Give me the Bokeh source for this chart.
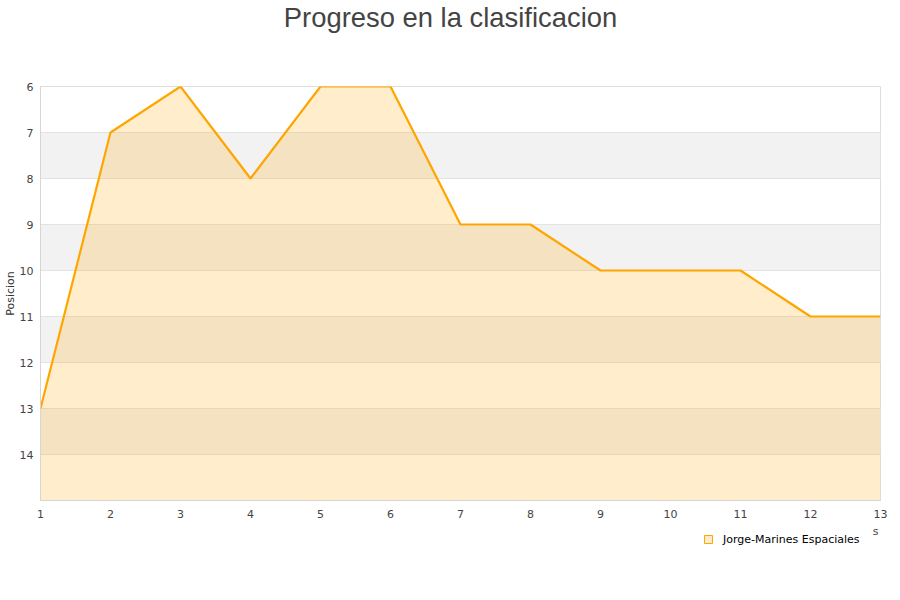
from bokeh.plotting import figure
from bokeh.layouts import column
from bokeh.models import FixedTicker, Range1d, Legend, LegendItem, Label
from bokeh.embed import file_html
from bokeh.resources import INLINE

jornadas = [1, 2, 3, 4, 5, 6, 7, 8, 9, 10, 11, 12, 13]
posicion = [13, 7, 6, 8, 6, 6, 9, 9, 10, 10, 10, 11, 11]
y_ticks = [6, 7, 8, 9, 10, 11, 12, 13, 14]
y_bottom = 15
titulo = "Progreso en la clasificacion"
serie = "Jorge-Marines Espaciales"
eje_x = "s"


def strip(h):
    f = figure(width=892, height=h, output_backend="svg", toolbar_location=None,
               x_range=Range1d(100, 101), y_range=Range1d(100, 101),
               min_border_left=40, min_border_right=12, min_border_top=0, min_border_bottom=0)
    f.axis.visible = False
    f.grid.visible = False
    f.outline_line_color = None
    f.background_fill_color = "white"
    f.border_fill_color = "white"
    return f


# title strip
p0 = strip(40)
p0.add_layout(Label(x=410, y=23, x_units="screen", y_units="screen", text=titulo,
                    text_align="center", text_baseline="middle",
                    text_font="Liberation Sans", text_font_size="27.4px", text_color="#444444"))

p = figure(width=892, height=484, output_backend="svg", toolbar_location=None,
           x_range=Range1d(1, 13), y_range=Range1d(y_bottom, 6),
           min_border_left=40, min_border_right=12, min_border_top=46, min_border_bottom=24)
p.background_fill_color = "white"
p.border_fill_color = "white"
p.outline_line_color = "#dddddd"

p.xgrid.visible = False
p.ygrid.grid_line_color = "#e3e3e3"
p.ygrid.band_fill_color = "#f2f2f2"
p.ygrid.band_fill_alpha = 1.0
p.ygrid.ticker = FixedTicker(ticks=y_ticks)

p.xaxis.ticker = FixedTicker(ticks=jornadas)
p.yaxis.ticker = FixedTicker(ticks=y_ticks)
for ax in (p.xaxis, p.yaxis):
    ax.major_tick_line_color = None
    ax.minor_tick_line_color = None
    ax.major_tick_out = 0
    ax.major_tick_in = 0
    ax.axis_line_color = "#d6d6d6"
    ax.major_label_text_font = "DejaVu Sans"
    ax.major_label_text_font_size = "11px"
    ax.major_label_text_color = "#444444"
    ax.axis_label_text_font = "DejaVu Sans"
    ax.axis_label_text_font_size = "11px"
    ax.axis_label_text_font_style = "normal"
    ax.axis_label_text_color = "#333333"
p.yaxis.major_label_standoff = 7
p.xaxis.major_label_standoff = 9
p.yaxis.axis_label = "Posicion"
p.yaxis.axis_label_standoff = 0

p.varea(x=jornadas, y1=posicion, y2=y_bottom, fill_color="orange", fill_alpha=0.2)
p.line(x=jornadas, y=posicion, line_color="orange", line_width=2.2)

# legend strip below the chart
p2 = strip(68)
r = p2.scatter(x=jornadas, y=posicion, marker="square", size=8, fill_color="orange",
               fill_alpha=0.2, line_color="orange", line_width=1)
legend = Legend(items=[LegendItem(label=serie, renderers=[r])],
                location=(658, 43), border_line_color=None, background_fill_alpha=0,
                padding=0, margin=0, label_text_font="DejaVu Sans",
                label_text_font_size="11px", label_text_color="#000000",
                glyph_width=20, glyph_height=20, label_standoff=5)
p2.add_layout(legend, "center")
p2.add_layout(Label(x=835, y=61, x_units="screen", y_units="screen", text=eje_x,
                    text_align="center", text_baseline="middle",
                    text_font="DejaVu Sans", text_font_size="11px", text_color="#444444"))

open("out.html", "w").write(file_html(column(p0, p, p2, spacing=0), INLINE))
